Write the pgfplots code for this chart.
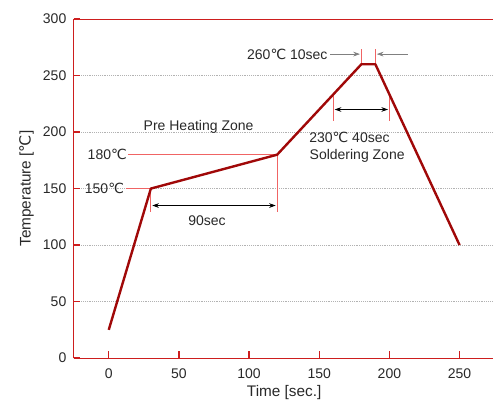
\documentclass[border=0pt]{standalone}
\usepackage{fontspec}
\setmainfont{Liberation Sans}
\newfontfamily\dv{DejaVu Sans}
\usepackage{pgfplots}
\pgfplotsset{compat=1.18}
\usetikzlibrary{arrows.meta}
\newcommand{\dC}{{\dv ℃}}
\definecolor{curve}{RGB}{160,8,8}
\definecolor{frame}{RGB}{205,30,30}
\definecolor{guide}{RGB}{240,100,100}
\definecolor{txt}{RGB}{40,40,40}

\begin{document}
\begin{tikzpicture}[x=1pt,y=1pt,font=\fontsize{10.5}{12.5}\selectfont]
\path[use as bounding box] (0,0) rectangle (369.75,302.25);
\begin{axis}[
  at={(52.5,39.75)}, anchor=south west,
  scale only axis, width=315.75pt, height=254.25pt,
  xmin=-25, xmax=275, ymin=0, ymax=300,
  xtick={0,50,...,250}, ytick={0,50,...,300},
  axis lines*=left,
  axis line style={frame, line width=0.8pt, -},
  every tick/.style={frame, line width=1pt},
  tick align=inside, major tick length=5pt,
  ymajorgrids, grid style={gray!60, densely dotted, line width=0.4pt},
  ticklabel style={txt},
  xticklabel style={yshift=-4.5pt},
  yticklabel style={xshift=-2pt},
  /pgf/number format/assume math mode=true,
  xlabel={Time [sec.]}, ylabel={Temperature [\dC]},
  label style={txt, font=\fontsize{11.5}{13}\selectfont},
  xlabel style={yshift=1.5pt},
  clip=false,
]
\draw[frame, line width=0.8pt] (rel axis cs:0,1) -- (rel axis cs:1,1);

% guide lines
\draw[guide, line width=0.6pt] (axis cs:12,150) -- (axis cs:30,150) -- (axis cs:30,129);
\draw[guide, line width=0.6pt] (axis cs:14,180) -- (axis cs:120,180) -- (axis cs:120,129);
\draw[guide, line width=0.6pt] (axis cs:160,233) -- (axis cs:160,210);
\draw[guide, line width=0.6pt] (axis cs:200,233) -- (axis cs:200,210);
\draw[guide, line width=0.6pt] (axis cs:180,273.5) -- (axis cs:180,259);
\draw[guide, line width=0.6pt] (axis cs:190,273.5) -- (axis cs:190,259);

\addplot[curve, line width=1.8pt, line join=round] coordinates {
  (0,25) (30,150) (120,180) (180,260) (190,260) (250,100)
};

% arrows
\draw[{Stealth[length=5pt,width=3.5pt]}-{Stealth[length=5pt,width=3.5pt]}, black, line width=0.5pt]
  (axis cs:31,135) -- (axis cs:119,135);
\draw[{Stealth[length=5pt,width=3.5pt]}-{Stealth[length=5pt,width=3.5pt]}, black, line width=0.5pt]
  (axis cs:161,220) -- (axis cs:199,220);
\draw[-{Stealth[length=5pt,width=3.5pt]}, gray, line width=0.5pt]
  (axis cs:158,269) -- (axis cs:179,269);
\draw[-{Stealth[length=5pt,width=3.5pt]}, gray, line width=0.5pt]
  (axis cs:213,269) -- (axis cs:191,269);

% labels
\node[txt, anchor=east, inner sep=1pt] at (axis cs:12,150) {150\dC};
\node[txt, anchor=east, inner sep=1pt] at (axis cs:14,180) {180\dC};
\node[txt] at (axis cs:70,122) {90sec};
\node[txt] at (axis cs:64,205) {Pre Heating Zone};
\node[txt] at (axis cs:171.5,195.5) {230\dC\ 40sec};
\node[txt] at (axis cs:177,179) {Soldering Zone};
\node[txt, anchor=east, inner sep=1pt] at (axis cs:157,269) {260\dC\ 10sec};
\end{axis}
\end{tikzpicture}
\end{document}
